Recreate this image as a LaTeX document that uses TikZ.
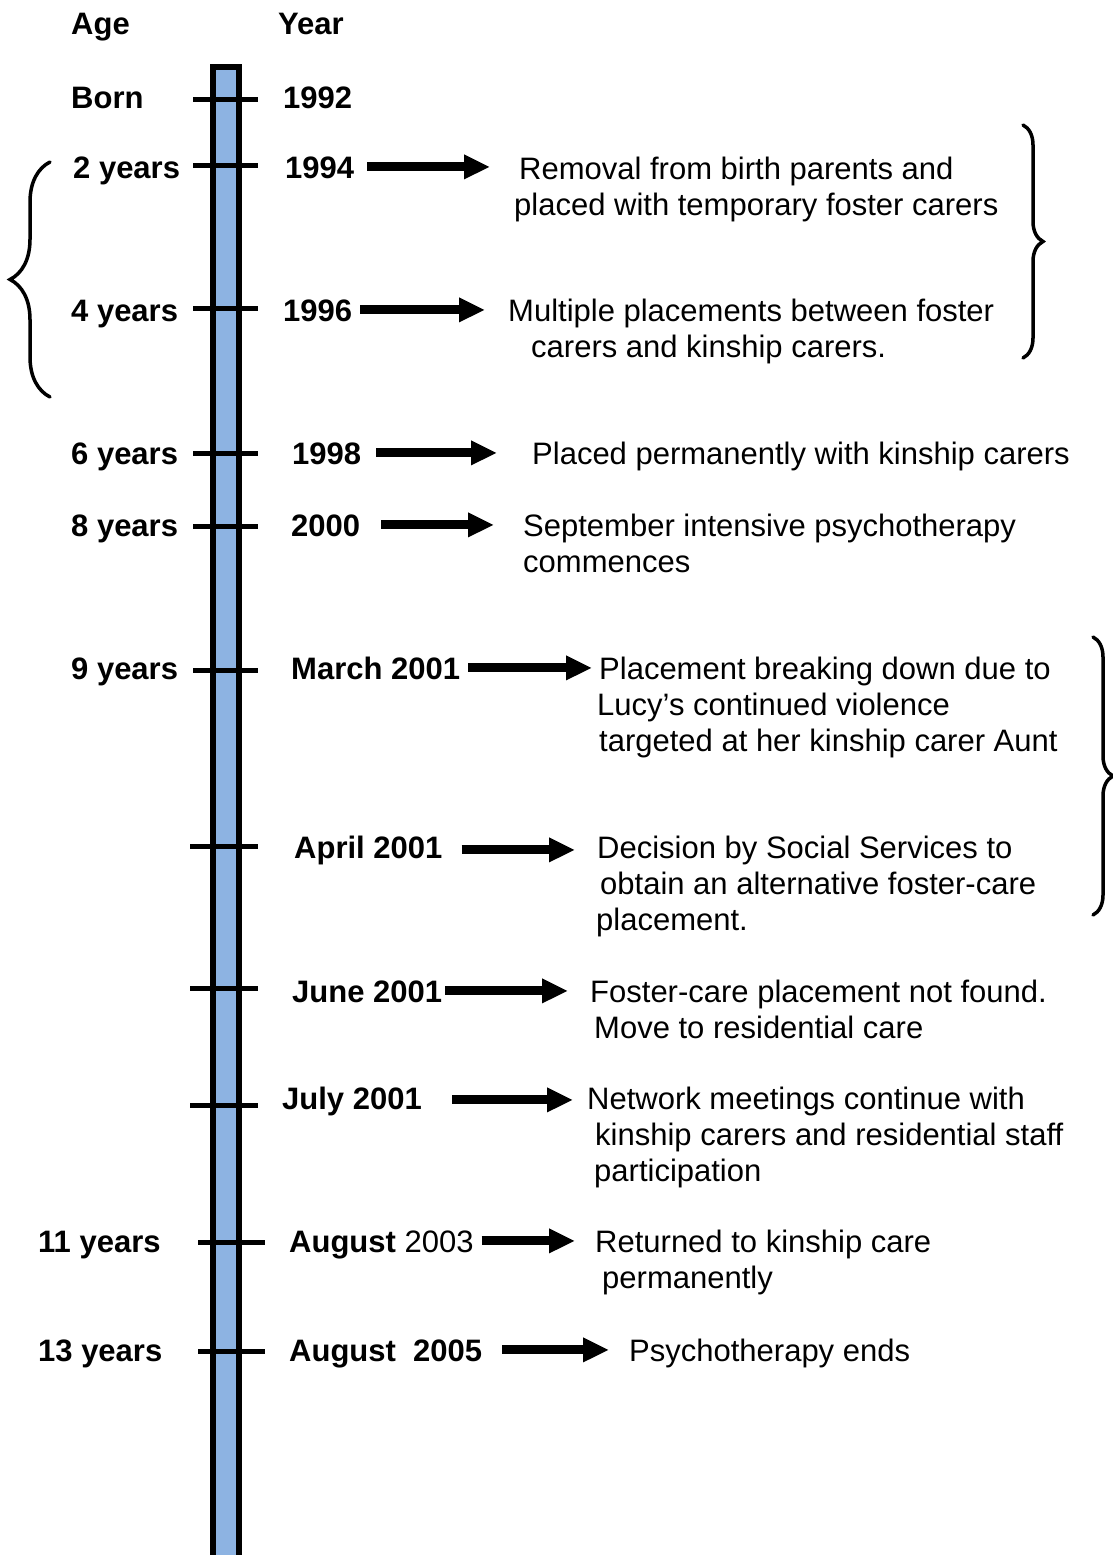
\documentclass[tikz,border=0pt]{standalone}
\usepackage{fontspec}
\setmainfont{Liberation Sans}
\usetikzlibrary{positioning, calc, arrows.meta, decorations.pathreplacing}

\definecolor{barblue}{RGB}{141,179,226}
\newcommand{\tlfont}{\fontsize{31}{36}\selectfont}

\begin{document}
\begin{tikzpicture}[x=1pt, y=-1pt,
    lbl/.style={inner sep=0pt, anchor=base west, font=\tlfont\bfseries, text height=22.2pt, text depth=0pt},
    ev/.style={inner sep=0pt, anchor=base west, font=\tlfont, align=left},
    tickmark/.style={line width=5pt},
    evarrow/.style={line width=9pt, -{Triangle[length=26pt, width=23pt]}},
    brc/.style={decorate, decoration={brace, amplitude=#1}, line width=3.5pt, line cap=round}]
    \useasboundingbox (0,0) rectangle (1113,1555);

    % Time bar
    \draw[line width=6pt, fill=barblue] (213,1565) -- (213,67) -- (239,67) -- (239,1565);

    % Tick marks
    \foreach \ty in {99,165,308,453,526,670}
        \draw[tickmark] (193,\ty) -- (258,\ty);
    \foreach \ty in {846,988,1105}
        \draw[tickmark] (190,\ty) -- (258,\ty);
    \foreach \ty in {1242,1351}
        \draw[tickmark] (198,\ty) -- (265,\ty);

    % Column headings
    \node[lbl] (age) at (71,35) {Age};
    \node[lbl] (year) at (278,35) {Year};

    % Born
    \node[lbl] (aBorn) at (71,108) {Born};
    \node[lbl] (y1992) at (283,108) {1992};

    % 1994 (multi-line events sit on the baseline of their last line)
    \node[lbl] (a2) at (73,178) {2 years};
    \node[lbl] (y1994) at (285,178) {1994};
    \node[ev] (e1994) at (514,215) {\hspace*{5pt}Removal from birth parents and\\placed with temporary foster carers};
    \draw[evarrow, shorten <=13pt, shorten >=24pt] (y1994.east) -- (y1994.east -| e1994.west);

    % 1996
    \node[lbl] (a4) at (71,321) {4 years};
    \node[lbl] (y1996) at (283,321) {1996};
    \node[ev] (e1996) at (508,357) {Multiple placements between foster\\\hspace*{23pt}carers and kinship carers.};
    \draw[evarrow, shorten <=8pt, shorten >=23pt] (y1996.east) -- (y1996.east -| e1996.west);

    % 1998
    \node[lbl] (a6) at (71,464) {6 years};
    \node[lbl] (y1998) at (292,464) {1998};
    \node[ev] (e1998) at (532,464) {Placed permanently with kinship carers};
    \draw[evarrow, shorten <=15pt, shorten >=35pt] (y1998.east) -- (y1998.east -| e1998.west);

    % 2000
    \node[lbl] (a8) at (71,536) {8 years};
    \node[lbl] (y2000) at (291,536) {2000};
    \node[ev] (e2000) at (523,572) {September intensive psychotherapy\\commences};
    \draw[evarrow, shorten <=21pt, shorten >=29pt] (y2000.east) -- (y2000.east -| e2000.west);

    % March 2001
    \node[lbl] (a9) at (71,679) {9 years};
    \node[lbl] (mar01) at (291,679) {March 2001};
    \node[ev] (eMar01) at (597,751) {\hspace*{2pt}Placement breaking down due to\\Lucy’s continued violence\\\hspace*{2pt}targeted at her kinship carer Aunt};
    \draw[evarrow, shorten <=8pt, shorten >=5pt] (mar01.east) -- (mar01.east -| eMar01.west);

    % April 2001
    \node[lbl] (apr01) at (294,858) {April 2001};
    \node[ev] (eApr01) at (596,930) {\hspace*{1pt}Decision by Social Services to\\\hspace*{4pt}obtain an alternative foster-care\\placement.};
    \draw[evarrow, shorten <=19pt, shorten >=21pt] ([yshift=-3pt]apr01.east) -- ([yshift=-3pt]apr01.east -| eApr01.west);

    % June 2001
    \node[lbl] (jun01) at (292,1002) {June 2001};
    \node[ev] (eJun01) at (590,1038) {Foster-care placement not found.\\\hspace*{4pt}Move to residential care};
    \draw[evarrow, shorten <=3pt, shorten >=22pt] (jun01.east) -- (jun01.east -| eJun01.west);

    % July 2001
    \node[lbl] (jul01) at (282,1109) {July 2001};
    \node[ev] (eJul01) at (587,1181) {Network meetings continue with\\\hspace*{8pt}kinship carers and residential staff\\\hspace*{7pt}participation};
    \draw[evarrow, shorten <=30pt, shorten >=14pt] ([yshift=-2pt]jul01.east) -- ([yshift=-2pt]jul01.east -| eJul01.west);

    % August 2003
    \node[lbl] (a11) at (38,1252) {11 years};
    \node[lbl] (aug03) at (289,1252) {August {\mdseries 2003}};
    \node[ev] (eAug03) at (595,1288) {Returned to kinship care\\\hspace*{7pt}permanently};
    \draw[evarrow, shorten <=8pt, shorten >=20pt] (aug03.east) -- (aug03.east -| eAug03.west);

    % August 2005
    \node[lbl] (a13) at (38,1361) {13 years};
    \node[lbl] (aug05) at (289,1361) {August\ \ 2005};
    \node[ev] (eAug05) at (629,1361) {Psychotherapy ends};
    \draw[evarrow, shorten <=20pt, shorten >=20pt] (aug05.east) -- (aug05.east -| eAug05.west);

    % Braces
    \draw[brc=40pt] (50,397) -- (50,162);
    \draw[brc=20pt] (1023,125) -- (1023,358);
    \draw[brc=20pt] (1093,637) -- (1093,915);

\end{tikzpicture}
\end{document}
